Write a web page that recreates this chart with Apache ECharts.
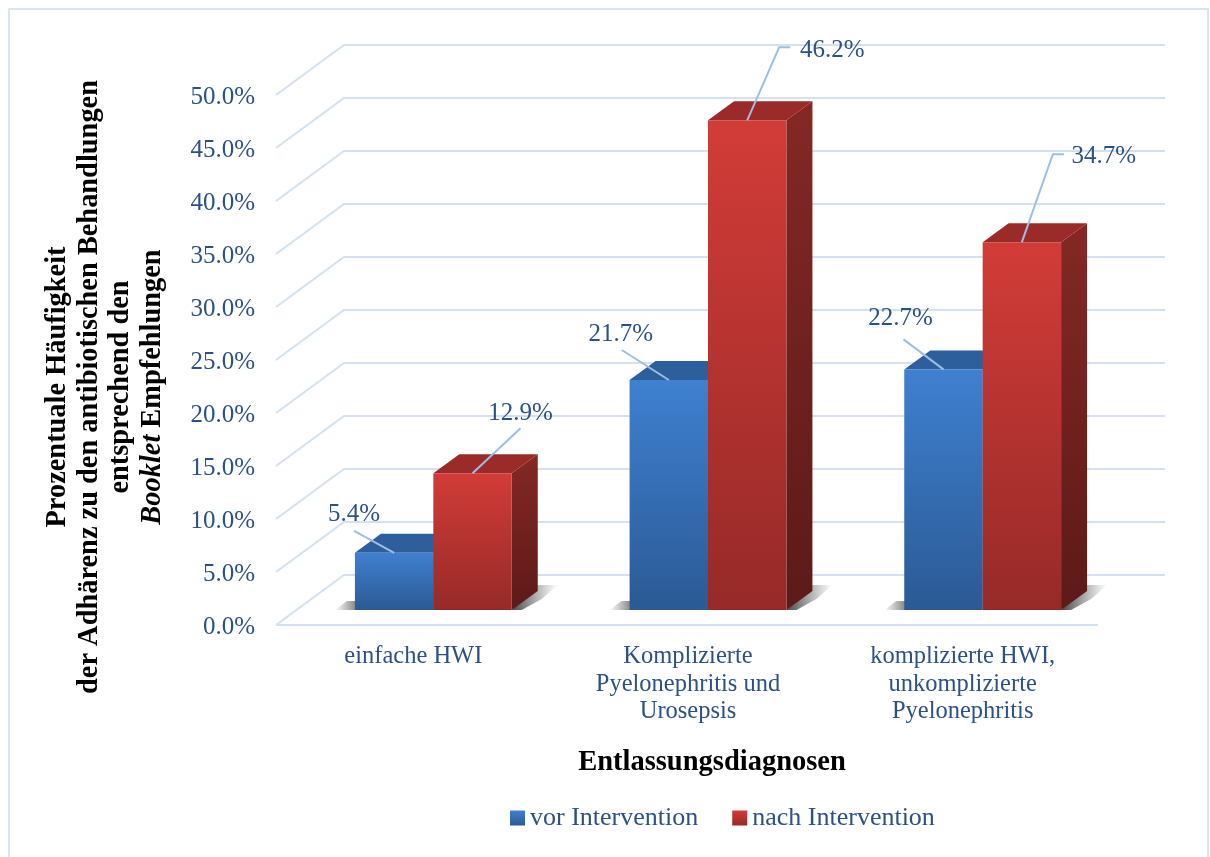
<!DOCTYPE html>
<html>
<head>
<meta charset="utf-8">
<style>html,body{margin:0;padding:0;background:#fff}#chart{width:1210px;height:857px}</style>
<script src="https://cdn.jsdelivr.net/npm/echarts@6/dist/echarts.min.js"></script>
</head>
<body>
<div id="chart"></div>
<script>
// Adherence to antibiotic treatment recommendations by discharge diagnosis
const categories = ['einfache HWI', 'Komplizierte\nPyelonephritis und\nUrosepsis', 'komplizierte HWI,\nunkomplizierte\nPyelonephritis'];
const vorIntervention = [5.4, 21.7, 22.7];
const nachIntervention = [12.9, 46.2, 34.7];
const yTicks = [0, 5, 10, 15, 20, 25, 30, 35, 40, 45, 50];

// Pseudo-3D geometry, in pixels
const WALL_DX = 68, WALL_DY = 50;      // depth of the floor and wall
const BAR_DX = 20, BAR_DY = 15;        // bars stand this far back from the front edge
const SIDE_DX = 26, SIDE_DY = 19;      // depth of a bar
const BAR_SHARE = 0.2855;              // bar width as a share of the category band

// Leader layout per bar, relative to the top centre of the front face:
// text centre, then the polyline points from the bar outwards
const vorLeaders = [
  { text: [-40, -38], line: [[-40, -22]] },
  { text: [-48, -46], line: [[-47, -30]] },
  { text: [-43, -51], line: [[-40, -30]] }
];
const nachLeaders = [
  { text: [48, -60], line: [[48, -45]] },
  { text: [85, -70], line: [[32, -73], [43, -73]] },
  { text: [82, -86], line: [[31, -88], [42, -88]] }
];

const SERIF = '"Liberation Serif", serif';
const TEXT_BLUE = '#2a5288';
const GRID_BLUE = '#d3e1f1';
const LEADER_BLUE = '#9dbfe4';

const vertical = (top, bottom) => new echarts.graphic.LinearGradient(0, 0, 0, 1, [
  { offset: 0, color: top }, { offset: 1, color: bottom }
]);
const horizontal = (a, b) => new echarts.graphic.LinearGradient(0, 0, 1, 0, [
  { offset: 0, color: a }, { offset: 1, color: b }
]);

const palette = {
  vor: { face: ['#3f80d0', '#2b5a94'], top: '#2c5f9c', side: ['#24507f', '#1c3d62'] },
  nach: { face: ['#d23c38', '#962a28'], top: '#9a2b29', side: ['#842825', '#5c1a18'] }
};

function renderWall(params, api) {
  const rect = params.coordSys;
  const tick = api.value(0);
  const y = api.coord([0, tick])[1];
  const left = rect.x, right = rect.x + rect.width;
  const children = [{
    type: 'polyline',
    shape: { points: [[left, y], [left + WALL_DX, y - WALL_DY], [right + WALL_DX - 3, y - WALL_DY]] },
    style: { stroke: GRID_BLUE, lineWidth: 2, fill: 'none' }
  }];
  if (tick === 0) {
    children.push({
      type: 'line',
      shape: { x1: left, y1: y, x2: right - 2, y2: y },
      style: { stroke: GRID_BLUE, lineWidth: 2 }
    });
  }
  return { type: 'group', children };
}

function barRenderer(side, colors, leaders) {
  return function (params, api) {
    const idx = api.value(0);
    const val = api.value(1);
    const band = api.size([1, 0])[0];
    const w = band * BAR_SHARE;
    const c = api.coord([idx, val]);
    const base = api.coord([idx, 0]);
    const x0 = (side === 0 ? c[0] - w : c[0]) + BAR_DX;
    const x1 = x0 + w;
    const yt = c[1] - BAR_DY;
    const yb = base[1] - BAR_DY;
    const leader = leaders[idx];
    const cx = x0 + w / 2;
    const shadow = side === 0
      ? {
          type: 'polygon',
          shape: { points: [[x0 - 20, yb], [x0 + 4, yb], [x0 + 4, yb - 9], [x0 - 8, yb - 9]] },
          style: { fill: horizontal('rgba(60,60,60,0)', 'rgba(60,60,60,0.7)') }
        }
      : {
          type: 'polygon',
          shape: { points: [[x1, yb], [x1 + SIDE_DX, yb - 25], [x1 + SIDE_DX + 20, yb - 25], [x1 + SIDE_DX + 4, yb - 11], [x1 + 10, yb]] },
          style: { fill: horizontal('rgba(50,50,50,0.9)', 'rgba(90,90,90,0)') }
        };
    return {
      type: 'group',
      children: [
        shadow,
        { type: 'polygon', shape: { points: [[x1, yt], [x1 + SIDE_DX, yt - SIDE_DY], [x1 + SIDE_DX, yb - SIDE_DY], [x1, yb]] },
          style: { fill: vertical(colors.side[0], colors.side[1]) } },
        { type: 'polygon', shape: { points: [[x0, yt], [x0 + SIDE_DX, yt - SIDE_DY], [x1 + SIDE_DX, yt - SIDE_DY], [x1, yt]] },
          style: { fill: colors.top } },
        { type: 'rect', shape: { x: x0, y: yt, width: w, height: yb - yt },
          style: { fill: vertical(colors.face[0], colors.face[1]) } },
        { type: 'polyline', z2: 5,
          shape: { points: [[cx, yt]].concat(leader.line.map(p => [cx + p[0], yt + p[1]])) },
          style: { stroke: LEADER_BLUE, lineWidth: 2, fill: 'none' } },
        { type: 'text', z2: 6, x: cx + leader.text[0], y: yt + leader.text[1],
          style: { text: val.toFixed(1) + '%', fill: TEXT_BLUE, font: '25px ' + SERIF, align: 'center', verticalAlign: 'middle' } }
      ]
    };
  };
}

const chart = echarts.init(document.getElementById('chart'), null, { renderer: 'canvas' });
chart.setOption({
  animation: false,
  backgroundColor: '#ffffff',
  graphic: [{
    type: 'rect', z: -10, silent: true,
    shape: { x: 9, y: 9, width: 1199, height: 860 },
    style: { fill: 'none', stroke: '#d9e5f3', lineWidth: 2 }
  }],
  grid: { left: 276, right: 110, top: 95, bottom: 232, containLabel: false, outerBoundsMode: 'none' },
  legend: {
    left: 505, top: 800, itemWidth: 15, itemHeight: 15, itemGap: 34,
    icon: 'rect',
    textStyle: { fontFamily: SERIF, fontSize: 26, color: TEXT_BLUE },
    data: ['vor Intervention', 'nach Intervention']
  },
  xAxis: {
    type: 'category',
    data: categories,
    name: 'Entlassungsdiagnosen',
    nameLocation: 'middle',
    nameGap: 123,
    nameTextStyle: { fontFamily: SERIF, fontSize: 28.5, fontWeight: 'bold', color: '#000', padding: [0, 0, 0, 48] },
    axisLine: { show: false },
    axisTick: { show: false },
    axisLabel: { fontFamily: SERIF, fontSize: 24.5, color: TEXT_BLUE, lineHeight: 27.5, margin: 18, interval: 0 }
  },
  yAxis: {
    type: 'value',
    min: 0,
    max: 50,
    interval: 5,
    name: [
      '{b|Prozentuale Häufigkeit}',
      '{b|der Adhärenz zu den antibiotischen Behandlungen}',
      '{b|entsprechend den}',
      '{bi|Booklet }{b|Empfehlungen}'
    ].join('\n'),
    nameLocation: 'middle',
    nameRotate: 90,
    nameGap: 108,
    nameTextStyle: {
      color: '#000',
      padding: [0, 54, 0, 0],
      rich: {
        b: { fontFamily: SERIF, fontSize: 28.4, fontWeight: 'bold', color: '#000', lineHeight: 31.4 },
        bi: { fontFamily: SERIF, fontSize: 28.4, fontWeight: 'bold', fontStyle: 'italic', color: '#000', lineHeight: 31.4 }
      }
    },
    axisLine: { show: false },
    axisTick: { show: false },
    splitLine: { show: false },
    axisLabel: {
      margin: 21,
      formatter: v => '{t|' + v.toFixed(1) + '%}',
      rich: {
        t: { fontFamily: SERIF, fontSize: 25, color: TEXT_BLUE, padding: [5, 0, 0, 0] }
      }
    }
  },
  series: [
    {
      type: 'custom', name: 'wall', z: 1, silent: true,
      coordinateSystem: 'cartesian2d',
      data: yTicks.map(t => [t]),
      encode: { y: 0 },
      renderItem: renderWall
    },
    {
      type: 'custom', name: 'vor Intervention', z: 2,
      coordinateSystem: 'cartesian2d',
      itemStyle: { color: vertical(palette.vor.face[0], palette.vor.face[1]) },
      data: vorIntervention.map((v, i) => [i, v]),
      encode: { x: 0, y: 1 },
      renderItem: barRenderer(0, palette.vor, vorLeaders)
    },
    {
      type: 'custom', name: 'nach Intervention', z: 3,
      coordinateSystem: 'cartesian2d',
      itemStyle: { color: vertical(palette.nach.face[0], palette.nach.face[1]) },
      data: nachIntervention.map((v, i) => [i, v]),
      encode: { x: 0, y: 1 },
      renderItem: barRenderer(1, palette.nach, nachLeaders)
    }
  ]
});
</script>
</body>
</html>
